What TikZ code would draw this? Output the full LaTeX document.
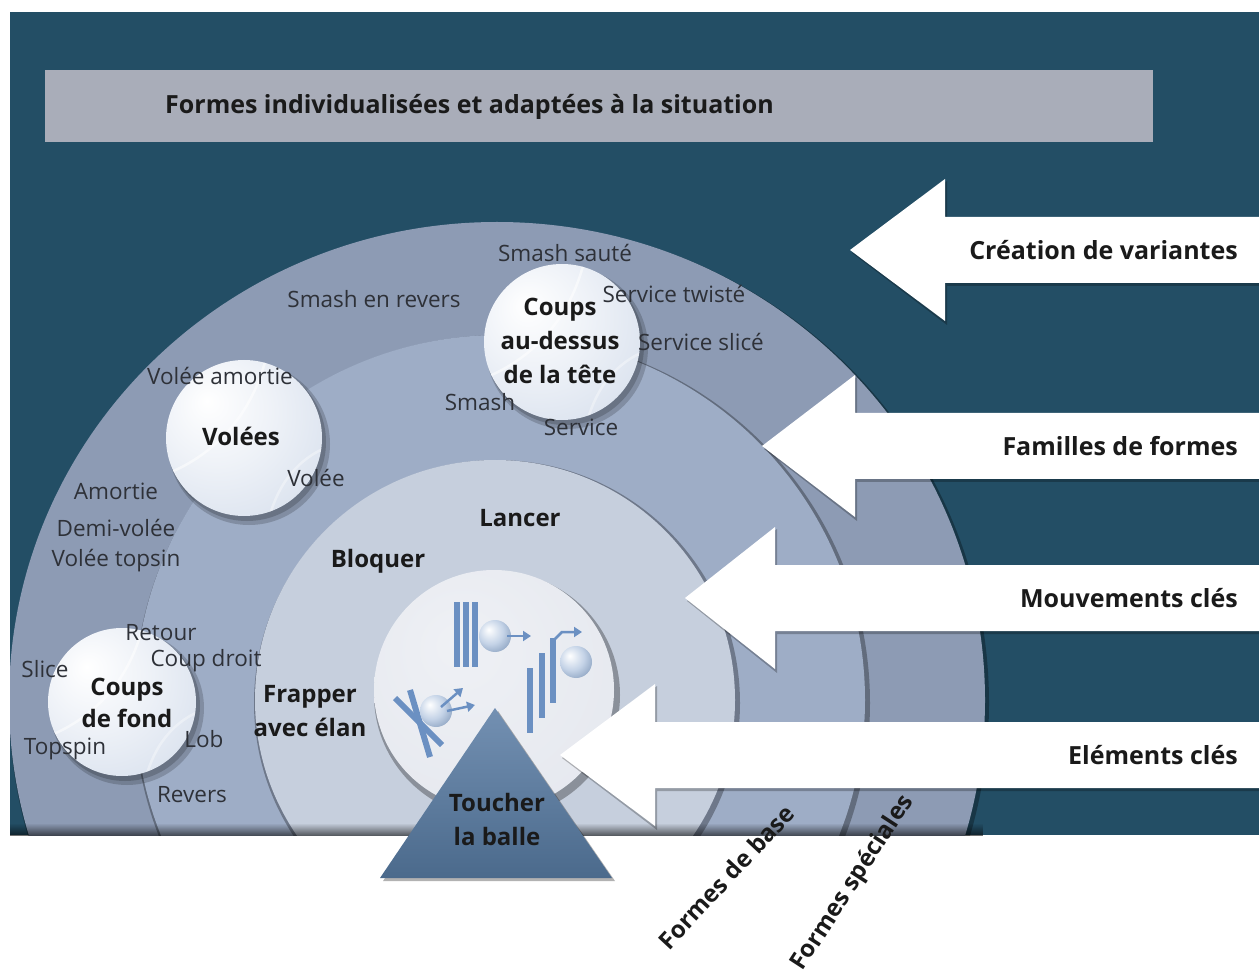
\documentclass[tikz,border=0pt]{standalone}
\usepackage{fontspec}
\setmainfont{Open Sans}
\usetikzlibrary{arrows.meta,fadings}
\definecolor{bgteal}{HTML}{234E65}
\definecolor{banner}{HTML}{A9ADB9}
\definecolor{ringA}{HTML}{8D9BB4}
\definecolor{ringB}{HTML}{9EADC6}
\definecolor{ringC}{HTML}{C6CFDD}
\definecolor{innerc}{HTML}{E4E7EE}
\definecolor{txt}{HTML}{1A1A1A}
\definecolor{txtreg}{HTML}{2E3138}
\definecolor{iconc}{HTML}{6B90C2}
\definecolor{tritop}{HTML}{7390B2}
\definecolor{tribot}{HTML}{4B6A8C}
\definecolor{ballB}{HTML}{D5DEEC}
\definecolor{ballC}{HTML}{939FB6}
\pgfdeclareradialshading{tball}{\pgfpoint{-12bp}{12bp}}{color(0bp)=(white); color(18bp)=(white!60!ballB); color(42bp)=(ballB); color(56bp)=(ballC); color(70bp)=(ballC)}
\pgfdeclareradialshading{iball}{\pgfpoint{-10bp}{10bp}}{color(0bp)=(white); color(20bp)=(iconc!40); color(50bp)=(iconc!80!black); color(70bp)=(iconc!80!black)}
\pgfdeclareradialshading{innersh}{\pgfpoint{-8bp}{10bp}}{color(0bp)=(innerc!60!white); color(40bp)=(innerc); color(48bp)=(innerc!85!black); color(60bp)=(innerc!60!black)}
\tikzset{
  lbl/.style={font=\fontsize{22.5}{24}\selectfont, text=txtreg, inner sep=0pt},
  blbl/.style={font=\fontsize{24}{34}\selectfont\bfseries, text=txt, inner sep=0pt, align=center},
  arrlbl/.style={font=\fontsize{25}{27}\selectfont\bfseries, text=txt, inner sep=0pt, anchor=east},
  bannerlbl/.style={font=\fontsize{25}{27}\selectfont\bfseries, text=txt, inner sep=0pt, anchor=west},
  shadowfill/.style={fill=black, opacity=0.3},
  seam/.style={white, line width=2.5pt, opacity=0.55},
  bar/.style={fill=iconc},
  iconarrow/.style={iconc, line width=2.5pt, -{Triangle[length=8pt,width=10pt]}},
}
\begin{document}
\begin{tikzpicture}[x=1pt,y=-1pt]
\useasboundingbox (0,0) rectangle (1259,973);
\fill[white] (0,0) rectangle (1259,973);
\fill[bgteal] (10,12) rectangle (1259,835);
% banner
\fill[banner] (45,70) rectangle (1153,142);
\node[bannerlbl] (ban) at (165,107) {Formes individualisées et adaptées à la situation};

% rings
\begin{scope}
\clip (10,12) rectangle (1259,835);
\fill[shadowfill] (499,703) ellipse[x radius=490pt, y radius=480pt];
\fill[ringA] (497,700) ellipse[x radius=488pt, y radius=478pt];
\fill[shadowfill] (502,703) circle[radius=368pt];
\fill[ringB] (500,700) circle[radius=365pt];
\fill[shadowfill] (497,703) circle[radius=243pt];
\fill[ringC] (495,700) circle[radius=240pt];
\fill[shadowfill] (497,695) circle[radius=123pt];
\shade[shading=innersh] (494,690) circle[radius=120pt];
\fill[black, path fading=north, opacity=0.6] (10,823) rectangle (984,836);
\end{scope}

% arrows
\foreach \tip/\back/\yc in {850/945/250, 762/855/446, 685/775/598, 560/655/755}{
  \fill[black, opacity=0.25] (\tip+2,\yc+3) -- (\back+2,\yc-69) -- (\back+2,\yc-30) -- (1259,\yc-30) -- (1259,\yc+36) -- (\back+2,\yc+36) -- (\back+2,\yc+75) -- cycle;
  \fill[white] (\tip,\yc) -- (\back,\yc-71) -- (\back,\yc-33) -- (1259,\yc-33) -- (1259,\yc+33) -- (\back,\yc+33) -- (\back,\yc+71) -- cycle;
}
\node[arrlbl] (a1) at (1238,250) {Création de variantes};
\node[arrlbl] (a2) at (1238,446) {Familles de formes};
\node[arrlbl] (a3) at (1238,598) {Mouvements clés};
\node[arrlbl] (a4) at (1238,755) {Eléments clés};

% icons in the inner circle
\fill[bar] (454,602) rectangle (460,667);
\fill[bar] (463,602) rectangle (469,667);
\fill[bar] (472,602) rectangle (478,667);
\shade[shading=iball] (495,636) circle[radius=16pt];
\draw[iconarrow] (507,636) -- (531,636);
\fill[bar] (527,668) rectangle (533,733);
\fill[bar] (539,653) rectangle (545,718);
\fill[bar] (550,638) rectangle (556,703);
\shade[shading=iball] (576,662) circle[radius=16pt];
\draw[iconarrow] (553,641) -- (562,632) -- (582,632);
\draw[iconc, line width=6pt] (395,698) -- (442,745);
\draw[iconc, line width=6pt] (410,690) -- (430,757);
\shade[shading=iball] (436,711) circle[radius=16pt];
\draw[iconarrow] (441,707) -- (463,688);
\draw[iconarrow] (447,711) -- (475,705);

% triangle
\fill[black, opacity=0.3] (498,711) -- (615,881) -- (383,881) -- cycle;
\shade[top color=tritop, bottom color=tribot] (495,708) -- (612,878) -- (380,878) -- cycle;

% balls
\foreach \cx/\cy/\r in {244/438/78, 562/342/78, 122/702/74}{
  \fill[black, opacity=0.18] (\cx+5,\cy+6) circle[radius=\r pt+3pt];
  \fill[black, opacity=0.18] (\cx+3,\cy+4) circle[radius=\r pt+1pt];
  \shade[shading=tball] (\cx,\cy) circle[radius=\r pt];
  \begin{scope}
    \clip (\cx,\cy) circle[radius=\r pt];
    \draw[seam] (\cx+0.3*\r,\cy-1.1*\r) .. controls (\cx+0.1*\r,\cy-0.2*\r) and (\cx-0.5*\r,\cy+0.3*\r) .. (\cx-1.1*\r,\cy+0.5*\r);
    \draw[seam, opacity=0.35] (\cx+1.1*\r,\cy+0.1*\r) .. controls (\cx+0.6*\r,\cy+0.3*\r) and (\cx+0.4*\r,\cy+0.7*\r) .. (\cx+0.3*\r,\cy+1.1*\r);
  \end{scope}
}

% ring 1 labels
\node[lbl] (l1) at (565,253) {Smash sauté};
\node[lbl] (l2) at (374,299) {Smash en revers};
\node[lbl] (l3) at (674,294) {Service twisté};
\node[lbl] (l4) at (701,342) {Service slicé};
\node[lbl] (l5) at (220,376) {Volée amortie};
\node[lbl] (l6) at (116,491) {Amortie};
\node[lbl] (l7) at (116,528) {Demi-volée};
\node[lbl] (l8) at (116,561) {Volée topsin};
\node[lbl] (l9) at (45,669) {Slice};
\node[lbl] (l10) at (65,749) {Topspin};
% ring 2 labels
\node[lbl] (m1) at (480,402) {Smash};
\node[lbl] (m2) at (581,427) {Service};
\node[lbl] (m3) at (316,478) {Volée};
\node[lbl] (m4) at (161,633) {Retour};
\node[lbl] (m5) at (206,661) {Coup droit};
\node[lbl] (m6) at (204,739) {Lob};
\node[lbl] (m7) at (192,795) {Revers};
% ball labels
\node[blbl] (b1) at (560,341) {Coups\\au-dessus\\de la tête};
\node[blbl] (b2) at (241,436) {Volées};
\node[blbl, font=\fontsize{24}{32}\selectfont\bfseries] (b3) at (127,703) {Coups\\de fond};
% ring 3 labels
\node[blbl] (c1) at (520,518) {Lancer};
\node[blbl] (c2) at (378,561) {Bloquer};
\node[blbl] (c3) at (310,711) {Frapper\\avec élan};
% triangle label
\node[blbl] (t1) at (497,819) {Toucher\\la balle};
% level labels
\node[blbl, rotate=47] (fb) at (726,877) {Formes de base};
\node[blbl, rotate=57] (fs) at (853,883) {Formes spéciales};
\end{tikzpicture}
\end{document}
